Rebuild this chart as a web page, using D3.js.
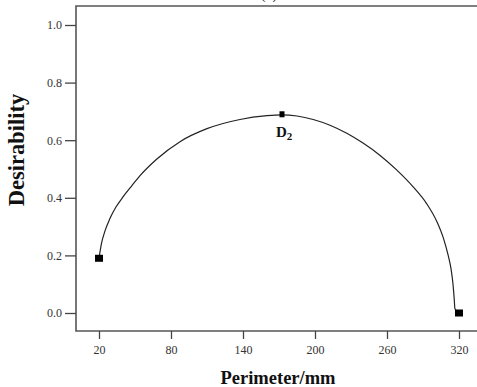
<!DOCTYPE html>
<html>
<head>
<meta charset="utf-8">
<script src="https://cdn.jsdelivr.net/npm/d3@7"></script>
<style>
  html, body { margin: 0; padding: 0; background: #fff; }
  svg { display: block; }
  .tick text { font-family: "Liberation Serif", "Times New Roman", serif; font-size: 12px; fill: #333; }
  .tick line { stroke: #444; stroke-width: 1.3; }
</style>
</head>
<body>
<svg id="chart" width="477" height="387"></svg>
<script>
// Desirability response curve over perimeter
const curvePerimeter = [20, 22, 25, 29, 34, 40, 47, 54, 68, 87.5, 110, 137.5, 160, 172.5, 185, 198.5, 212.5, 226.5, 240, 254, 268, 282, 293, 301.5, 307, 311, 313.5, 315, 316, 316.6, 320];
const curveDesirability = [0.19, 0.24, 0.285, 0.327, 0.367, 0.403, 0.44, 0.476, 0.534, 0.595, 0.64, 0.672, 0.685, 0.688, 0.684, 0.672, 0.652, 0.624, 0.59, 0.548, 0.497, 0.437, 0.38, 0.318, 0.26, 0.2, 0.15, 0.1, 0.05, 0.015, 0.0];

// Marked points
const markerPerimeter = [20, 172.5, 320];
const markerDesirability = [0.19, 0.69, 0.0];
const markerWidth = [8, 5, 8];
const markerHeight = [7, 6, 7];

const xTicks = [20, 80, 140, 200, 260, 320];
const yTicks = [0.0, 0.2, 0.4, 0.6, 0.8, 1.0];

const svg = d3.select("#chart");

const x = d3.scaleLinear().domain([20, 320]).range([99, 459]);
const y = d3.scaleLinear().domain([0, 1]).range([313, 25]);

const frameLeft = 76, frameTop = 6, frameBottom = 331, frameRight = 480;

// frame
svg.append("path")
  .attr("d", `M${frameRight},${frameTop}H${frameLeft}V${frameBottom}H${frameRight}`)
  .attr("fill", "none")
  .attr("stroke", "#555")
  .attr("stroke-width", 1.6);

// axes
const yAxis = svg.append("g")
  .attr("transform", `translate(${frameLeft},0)`)
  .call(d3.axisLeft(y).tickValues(yTicks).tickFormat(d3.format(".1f")).tickSize(11).tickPadding(3));
yAxis.select(".domain").remove();

const xAxis = svg.append("g")
  .attr("transform", `translate(0,${frameBottom})`)
  .call(d3.axisBottom(x).tickValues(xTicks).tickFormat(d3.format("d")).tickSize(8).tickPadding(6));
xAxis.select(".domain").remove();

// curve
const pts = curvePerimeter.map((p, i) => [p, curveDesirability[i]]);
const line = d3.line()
  .x(d => x(d[0]))
  .y(d => y(d[1]))
  .curve(d3.curveMonotoneX);

svg.append("path")
  .datum(pts)
  .attr("d", line)
  .attr("fill", "none")
  .attr("stroke", "#222")
  .attr("stroke-width", 1.2);

// markers
svg.selectAll("rect.marker")
  .data(markerPerimeter.map((p, i) => ({ p, d: markerDesirability[i], w: markerWidth[i], h: markerHeight[i] })))
  .join("rect")
  .attr("class", "marker")
  .attr("x", d => x(d.p) - d.w / 2)
  .attr("y", d => y(d.d) - d.h / 2)
  .attr("width", d => d.w)
  .attr("height", d => d.h)
  .attr("fill", "#000");

// optimum label
const lbl = svg.append("text")
  .attr("x", x(markerPerimeter[1]) - 6)
  .attr("y", y(markerDesirability[1]) + 23)
  .attr("font-family", "Liberation Serif, Times New Roman, serif")
  .attr("font-size", 15)
  .attr("font-weight", "bold")
  .attr("fill", "#111");
lbl.append("tspan").text("D");
lbl.append("tspan").attr("font-size", 11).attr("dy", 3).text("2");

// panel title (mostly above the visible area)
svg.append("text")
  .attr("x", 269)
  .attr("y", -1)
  .attr("text-anchor", "middle")
  .attr("font-family", "Liberation Serif, Times New Roman, serif")
  .attr("font-size", 14)
  .attr("fill", "#222")
  .text("(b)");

// axis titles
svg.append("text")
  .attr("x", 278)
  .attr("y", 383.5)
  .attr("text-anchor", "middle")
  .attr("font-family", "Liberation Serif, Times New Roman, serif")
  .attr("font-size", 18.5)
  .attr("font-weight", "bold")
  .attr("fill", "#111")
  .text("Perimeter/mm");

svg.append("text")
  .attr("transform", "translate(24,150) rotate(-90)")
  .attr("text-anchor", "middle")
  .attr("font-family", "Liberation Serif, Times New Roman, serif")
  .attr("font-size", 22.5)
  .attr("font-weight", "bold")
  .attr("fill", "#111")
  .text("Desirability");
</script>
</body>
</html>
